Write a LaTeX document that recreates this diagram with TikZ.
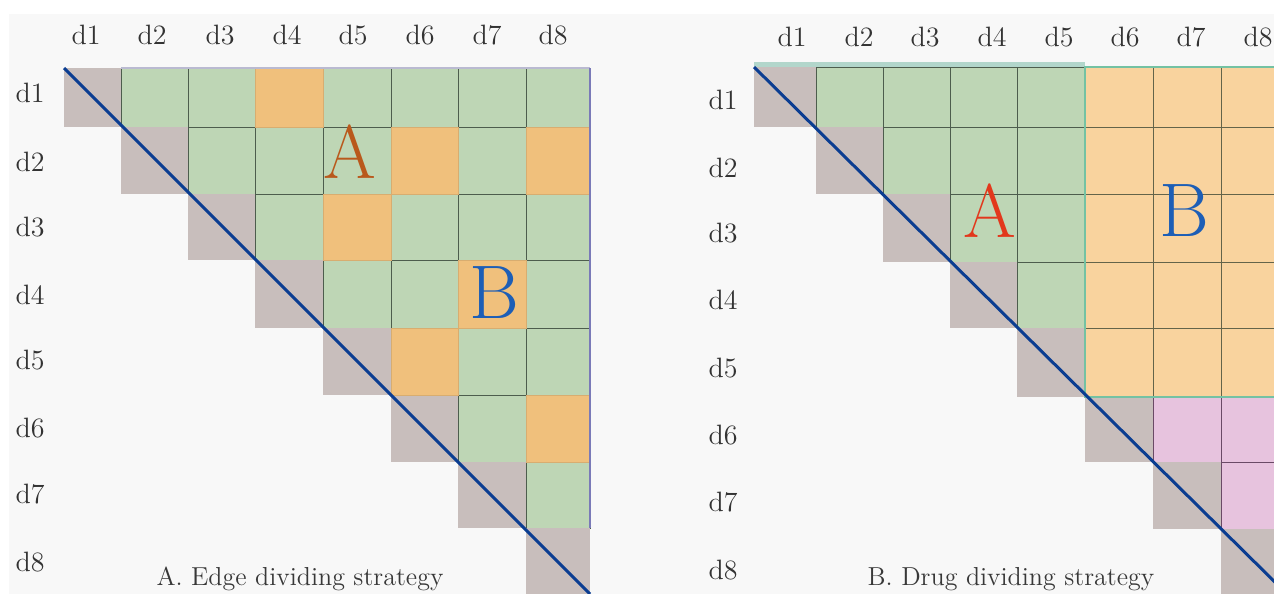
\documentclass[tikz,border=0pt]{standalone}
\usepackage{xcolor}
\usepackage{tikz}

\definecolor{bggray}{HTML}{F8F8F8}
\definecolor{cellgray}{HTML}{C8BEBC}
\definecolor{cellgreen}{HTML}{BED6B5}
\definecolor{edgeorange}{HTML}{F0C07C}
\definecolor{drugorange}{HTML}{F9D39E}
\definecolor{cellpink}{HTML}{E7C3DE}
\definecolor{gridline}{HTML}{4D5D4D}
\definecolor{pinkline}{HTML}{6A4A66}
\definecolor{diagblue}{HTML}{0B3D91}
\definecolor{bordteal}{HTML}{74C2A3}
\definecolor{lightteal}{HTML}{B2D6CB}
\definecolor{letterA}{HTML}{B9591C}
\definecolor{letterAred}{HTML}{E2381C}
\definecolor{letterB}{HTML}{1D5EB6}

% one cell of a matrix: panel, row, column, style
\newcommand{\gridcell}[4]{%
  \pgfmathtruncatemacro\nextrow{#2+1}%
  \pgfmathtruncatemacro\nextcol{#3+1}%
  \path[#4] (#1X#3 |- #1Y#2) rectangle (#1X\nextcol |- #1Y\nextrow);}

\begin{document}
\begin{tikzpicture}[x=0.5pt, y=-0.5pt,
    axislab/.style={font=\fontsize{14}{16}\selectfont, text=black!80},
    caption/.style={font=\fontsize{13}{15}\selectfont, text=black!78, anchor=base},
    bigletter/.style={font=\fontsize{38}{40}\selectfont},
    diagcell/.style={fill=cellgray},
    greencell/.style={fill=cellgreen, draw=gridline, line width=0.5pt},
    edgecell/.style={fill=edgeorange, draw=edgeorange!90!black, line width=0.5pt},
    drugcell/.style={fill=drugorange, draw=gridline!80!brown, line width=0.5pt},
    pinkcell/.style={fill=cellpink, draw=pinkline, line width=0.5pt},
    diagline/.style={draw=diagblue, line width=1.5pt},
    topedge/.style={draw=blue!20!gray!45, line width=1pt},
    rightedge/.style={draw=blue!30!gray!80, line width=0.8pt}
]
\useasboundingbox (0,0) rectangle (1274,594);
\clip (0,0) rectangle (1274,594);
\fill[white] (0,0) rectangle (1274,594);
\fill[bggray] (9,14) rectangle (1274,594);

% grid corners
\foreach \v [count=\k] in {64,121,188,255,323,391,458,526,590} \coordinate (AX\k) at (\v,0);
\foreach \v [count=\k] in {68,127,194,260,328,395,462,528,594} \coordinate (AY\k) at (0,\v);
\foreach \v [count=\k] in {754,816,883,950,1017,1085,1153,1221,1289} \coordinate (BX\k) at (\v,0);
\foreach \v [count=\k] in {67,127,194,262,328,397,462,529,596} \coordinate (BY\k) at (0,\v);
\coordinate (BT) at (0,62);

% A. edge dividing
\fill[lightteal!60] (AX2 |- AY1) rectangle (AX9 |- AY1);
\foreach \i in {1,...,8} {
  \gridcell{A}{\i}{\i}{diagcell}
  \foreach \j in {1,...,8} {
    \ifnum\j>\i \gridcell{A}{\i}{\j}{greencell}\fi
  }
}
\foreach \i/\j in {1/4,2/6,2/8,3/5,4/7,5/6,6/8} \gridcell{A}{\i}{\j}{edgecell};
\draw[topedge] (AX2 |- AY1) -- (AX9 |- AY1);
\draw[rightedge] (AX9 |- AY1) -- (AX9 |- AY8);
\draw[diagline] (AX1 |- AY1) -- (AX9 |- AY9);

% B. drug dividing
\fill[lightteal] (BX1 |- BT) rectangle (BX6 |- BY1);
\foreach \i in {1,...,8} {
  \gridcell{B}{\i}{\i}{diagcell}
  \foreach \j in {1,...,8} {
    \ifnum\j>\i
      \ifnum\i<6
        \ifnum\j<6 \gridcell{B}{\i}{\j}{greencell}\else \gridcell{B}{\i}{\j}{drugcell}\fi
      \else
        \gridcell{B}{\i}{\j}{pinkcell}
      \fi
    \fi
  }
}
\draw[bordteal, line width=1.3pt] (BX6 |- BY1) rectangle (BX9 |- BY6);
\draw[diagline] (BX1 |- BY1) -- (BX9 |- BY9);

% letters
\node[bigletter, text=letterA] (edgeA) at (350,152) {A};
\node[bigletter, text=letterB] (edgeB) at (494,293) {B};
\node[bigletter, text=letterAred] (drugA) at (990,211) {A};
\node[bigletter, text=letterB] (drugB) at (1184,211) {B};

% axis labels
\foreach \x [count=\k] in {86,152,220,287,353,420,487,553} \node[axislab] (Acol\k) at (\x,35) {d\k};
\foreach \y [count=\k] in {93,162,227,295,360,428,494,562} \node[axislab] (Arow\k) at (30,\y) {d\k};
\foreach \x [count=\k] in {792,859,925,992,1059,1125,1191,1258} \node[axislab] (Bcol\k) at (\x,37) {d\k};
\foreach \y [count=\k] in {100,168,233,300,368,435,502,570} \node[axislab] (Brow\k) at (723,\y) {d\k};

\node[caption] (capA) at (300,585) {A. Edge dividing strategy};
\node[caption] (capB) at (1011,585) {B. Drug dividing strategy};
\end{tikzpicture}
\end{document}
